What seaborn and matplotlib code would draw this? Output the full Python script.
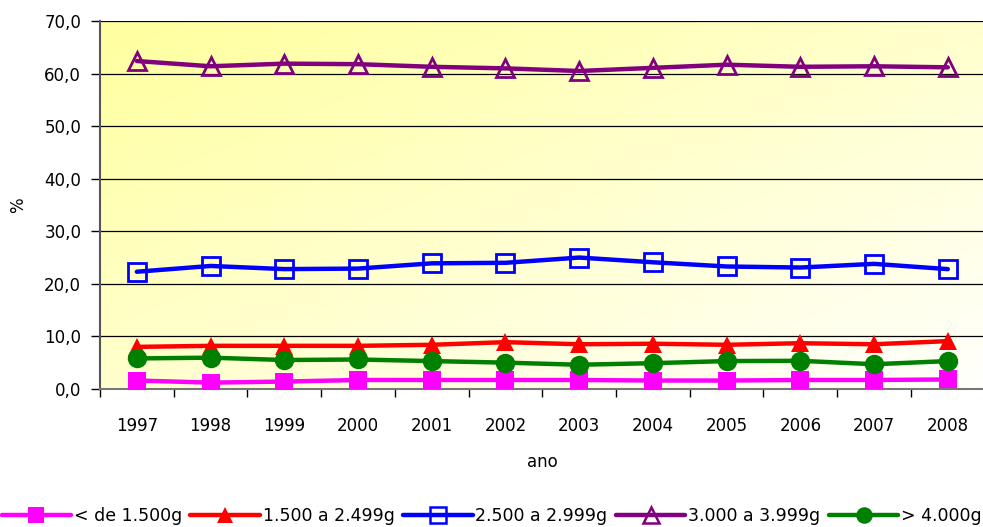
import numpy as np
import pandas as pd
import matplotlib
matplotlib.use("Agg")
import matplotlib.pyplot as plt
import seaborn as sns
from matplotlib.ticker import FixedLocator
from matplotlib.lines import Line2D

# Birth-weight distribution by year (%)
anos = [1997, 1998, 1999, 2000, 2001, 2002, 2003, 2004, 2005, 2006, 2007, 2008]
menos_1500 = [1.6, 1.2, 1.4, 1.7, 1.7, 1.7, 1.7, 1.6, 1.6, 1.7, 1.7, 1.8]
de_1500_2499 = [8.0, 8.2, 8.2, 8.2, 8.4, 8.9, 8.5, 8.6, 8.4, 8.7, 8.5, 9.1]
de_2500_2999 = [22.3, 23.4, 22.8, 22.9, 23.9, 24.0, 25.0, 24.1, 23.3, 23.1, 23.8, 22.8]
de_3000_3999 = [62.4, 61.4, 61.9, 61.8, 61.3, 61.0, 60.5, 61.1, 61.7, 61.3, 61.4, 61.2]
mais_4000 = [5.8, 5.95, 5.5, 5.6, 5.3, 5.0, 4.6, 4.9, 5.3, 5.35, 4.7, 5.3]

series = [
    ("< de 1.500g", menos_1500, "#FF00FF", "s", True),
    ("1.500 a 2.499g", de_1500_2499, "#FF0000", "^", True),
    ("2.500 a 2.999g", de_2500_2999, "#0000FF", "s", False),
    ("3.000 a 3.999g", de_3000_3999, "#800080", "^", False),
    ("> 4.000g", mais_4000, "#008000", "o", True),
]

sns.set_theme(style="white")
plt.rcParams["font.family"] = ["DejaVu Sans"]
plt.rcParams["text.color"] = "black"

fig = plt.figure(figsize=(9.83, 5.27), dpi=100)
ax = fig.add_axes([0.1017, 0.262, 0.9, 0.698])

# diagonal yellow-to-white gradient for the plot area
gx, gy = np.meshgrid(np.linspace(0, 1, 300), np.linspace(0, 1, 300))
t = np.clip((gx + gy) / 2.0, 0, 1)
top = np.array([1.0, 1.0, 0.62])
bot = np.array([1.0, 1.0, 0.99])
img = top[None, None, :] * (1 - t[..., None]) + bot[None, None, :] * t[..., None]
ax.imshow(img, extent=[0, 1, 0, 1], transform=ax.transAxes, aspect="auto",
          zorder=0, origin="upper")

handles = []
for z, (nome, vals, cor, mk, cheio) in enumerate(series):
    df = pd.DataFrame({"ano": anos, "pct": vals})
    ms = 13 if mk != "o" else 14
    fc = cor if cheio else "none"
    mew = 0 if cheio else 2.0
    sns.lineplot(
        data=df, x="ano", y="pct", ax=ax, color=cor, lw=3.2,
        marker=mk, markersize=ms, markerfacecolor=fc,
        markeredgecolor=cor, markeredgewidth=mew,
        zorder=3 + z, legend=False,
    )
    handles.append(Line2D([0], [0], color=cor, lw=3.2, marker=mk,
                          markersize=ms * 0.85, markerfacecolor=fc,
                          markeredgecolor=cor, markeredgewidth=mew * 0.9,
                          label=nome))

ax.set_xlim(1996.5, 2008.5)
ax.set_ylim(0, 70)
ax.set_yticks(np.arange(0, 71, 10))
ax.set_yticklabels([f"{v:.1f}".replace(".", ",") for v in np.arange(0, 71, 10)])
ax.set_xticks(anos)
ax.set_xticklabels([str(a) for a in anos])
ax.xaxis.set_minor_locator(FixedLocator(np.arange(1996.5, 2009, 1)))
ax.tick_params(axis="x", which="major", length=0, pad=20, labelsize=12, colors="black")
ax.tick_params(axis="x", which="minor", length=6, width=1, color="black", direction="out", bottom=True)
ax.tick_params(axis="y", length=6.5, width=1, color="black", direction="out", left=True,
               labelsize=12, pad=7, colors="black")

ax.grid(axis="y", color="black", lw=0.9, zorder=1)
ax.set_axisbelow(True)
for s in ["top", "right"]:
    ax.spines[s].set_visible(False)
ax.spines["left"].set_color("#555555")
ax.spines["left"].set_linewidth(1.5)
ax.spines["bottom"].set_color("#777777")
ax.spines["bottom"].set_linewidth(1.5)

ax.set_xlabel("ano", fontsize=12, labelpad=13, color="black")
ax.set_ylabel("%", fontsize=12, labelpad=12, color="black")

leg = fig.legend(handles=handles, loc="lower center", bbox_to_anchor=(0.5, 0.004), ncol=5,
                 frameon=False, fontsize=12.5, handlelength=4.0, handletextpad=0.15,
                 columnspacing=0.5, borderaxespad=0, borderpad=0)
for txt in leg.get_texts():
    txt.set_color("black")

fig.savefig("out.png", dpi=100, facecolor="white")
